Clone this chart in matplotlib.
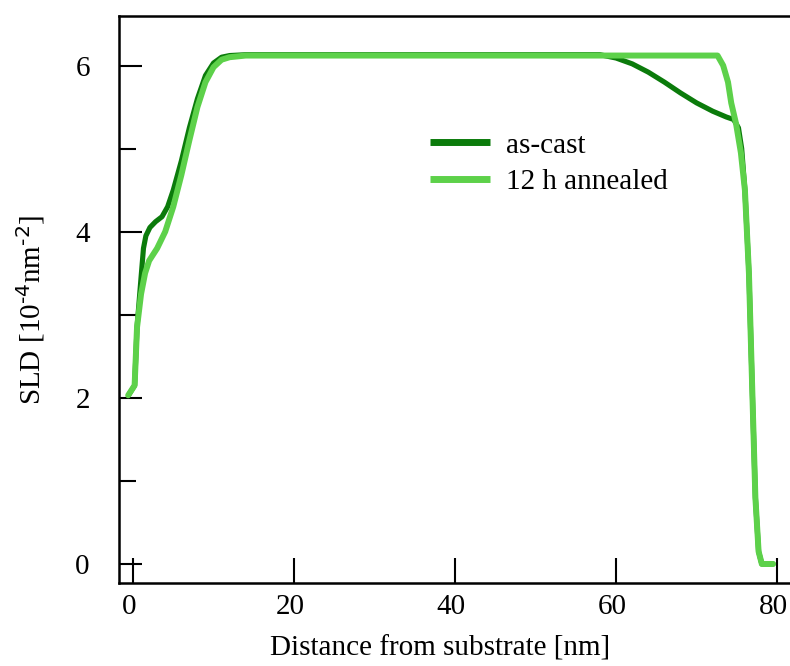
import matplotlib
matplotlib.use("Agg")
import matplotlib.pyplot as plt
import matplotlib.transforms as mtransforms
from matplotlib.ticker import MultipleLocator

# profile (distance in nm, SLD in 1e-4 nm^-2)
cast_x = [-0.5, 0.2, 0.5, 1.0, 1.3, 1.6, 2.1, 2.8, 3.6, 4.3, 5.0, 6.0, 7.0, 8.0,
          9.0, 10.0, 11.0, 12.0, 14.0, 58.0, 60.0, 62.0, 64.0, 66.0, 68.0, 70.0,
          72.0, 73.7, 74.6, 75.2, 75.6, 76.0, 76.5, 77.0, 77.3, 77.7, 78.1, 79.5]
cast_y = [2.04, 2.15, 2.85, 3.45, 3.80, 3.95, 4.05, 4.12, 4.18, 4.30, 4.50, 4.85,
          5.25, 5.60, 5.88, 6.03, 6.10, 6.12, 6.13, 6.13, 6.09, 6.02, 5.92, 5.80,
          5.67, 5.55, 5.45, 5.38, 5.35, 5.25, 5.00, 4.50, 3.50, 1.80, 0.80, 0.15,
          0.0, 0.0]

anneal_x = [-0.6, 0.2, 0.5, 1.0, 1.5, 2.0, 3.0, 4.0, 5.0, 6.0, 7.0, 8.0, 9.0,
            10.0, 11.0, 12.0, 14.0, 72.6, 73.3, 73.9, 74.3, 74.9, 75.5, 76.0,
            76.5, 77.0, 77.3, 77.7, 78.1, 79.5]
anneal_y = [2.03, 2.15, 2.85, 3.25, 3.50, 3.65, 3.80, 4.00, 4.30, 4.68, 5.10,
            5.50, 5.80, 5.98, 6.07, 6.10, 6.12, 6.12, 6.00, 5.80, 5.55, 5.30,
            4.95, 4.50, 3.50, 1.80, 0.80, 0.15, 0.0, 0.0]

labels = ["as-cast", "12 h annealed"]
colors = ["#0b7b0b", "#5dd14a"]

plt.rcParams["font.family"] = ["Liberation Serif", "DejaVu Serif"]
plt.rcParams["mathtext.default"] = "regular"
plt.rcParams["font.size"] = 21

fig = plt.figure(figsize=(7.9, 6.66), dpi=100)
ax = fig.add_axes([119 / 790, 83 / 666, 671 / 790, 567 / 666])

ax.plot(cast_x, cast_y, color=colors[0], lw=3.7, label=labels[0],
        solid_joinstyle="round", solid_capstyle="round")
ax.plot(anneal_x, anneal_y, color=colors[1], lw=4.3, label=labels[1],
        solid_joinstyle="round", solid_capstyle="round")

ax.set_xlim(-1.74, 81.6)
ax.set_ylim(-0.229, 6.596)

ax.set_xticks([0, 20, 40, 60, 80])
ax.set_yticks([0, 2, 4, 6])
ax.yaxis.set_minor_locator(MultipleLocator(1))
ax.tick_params(axis="x", which="major", direction="in", length=18, width=1.5,
               pad=8, top=False)
ax.tick_params(axis="y", which="major", direction="in", length=16.5, width=1.5,
               pad=21, right=False)
ax.tick_params(axis="y", which="minor", direction="in", length=12, width=1.5,
               right=False)

# x tick labels sit a little left of their ticks in the original
shift = mtransforms.ScaledTranslation(-4 / 100, 0, fig.dpi_scale_trans)
for lab in ax.get_xticklabels():
    lab.set_transform(lab.get_transform() + shift)

for side in ["left", "bottom", "top"]:
    ax.spines[side].set_linewidth(1.8)
ax.spines["right"].set_visible(False)

ax.set_xlabel("Distance from substrate [nm]")
ax.xaxis.set_label_coords(0.478, -0.093)
ax.set_ylabel(r"SLD [10$^{\text{-4}}$nm$^{\text{-2}}$]")
ax.yaxis.set_label_coords(-0.107, 0.481)

leg = ax.legend(loc="upper left", bbox_to_anchor=(0.4635, 0.795), frameon=False,
                borderpad=0, borderaxespad=0, handlelength=2.07,
                handletextpad=0.52, labelspacing=0.35)
for line in leg.get_lines():
    line.set_linewidth(5)
    line.set_solid_capstyle("butt")

fig.savefig("out.png", dpi=100)
